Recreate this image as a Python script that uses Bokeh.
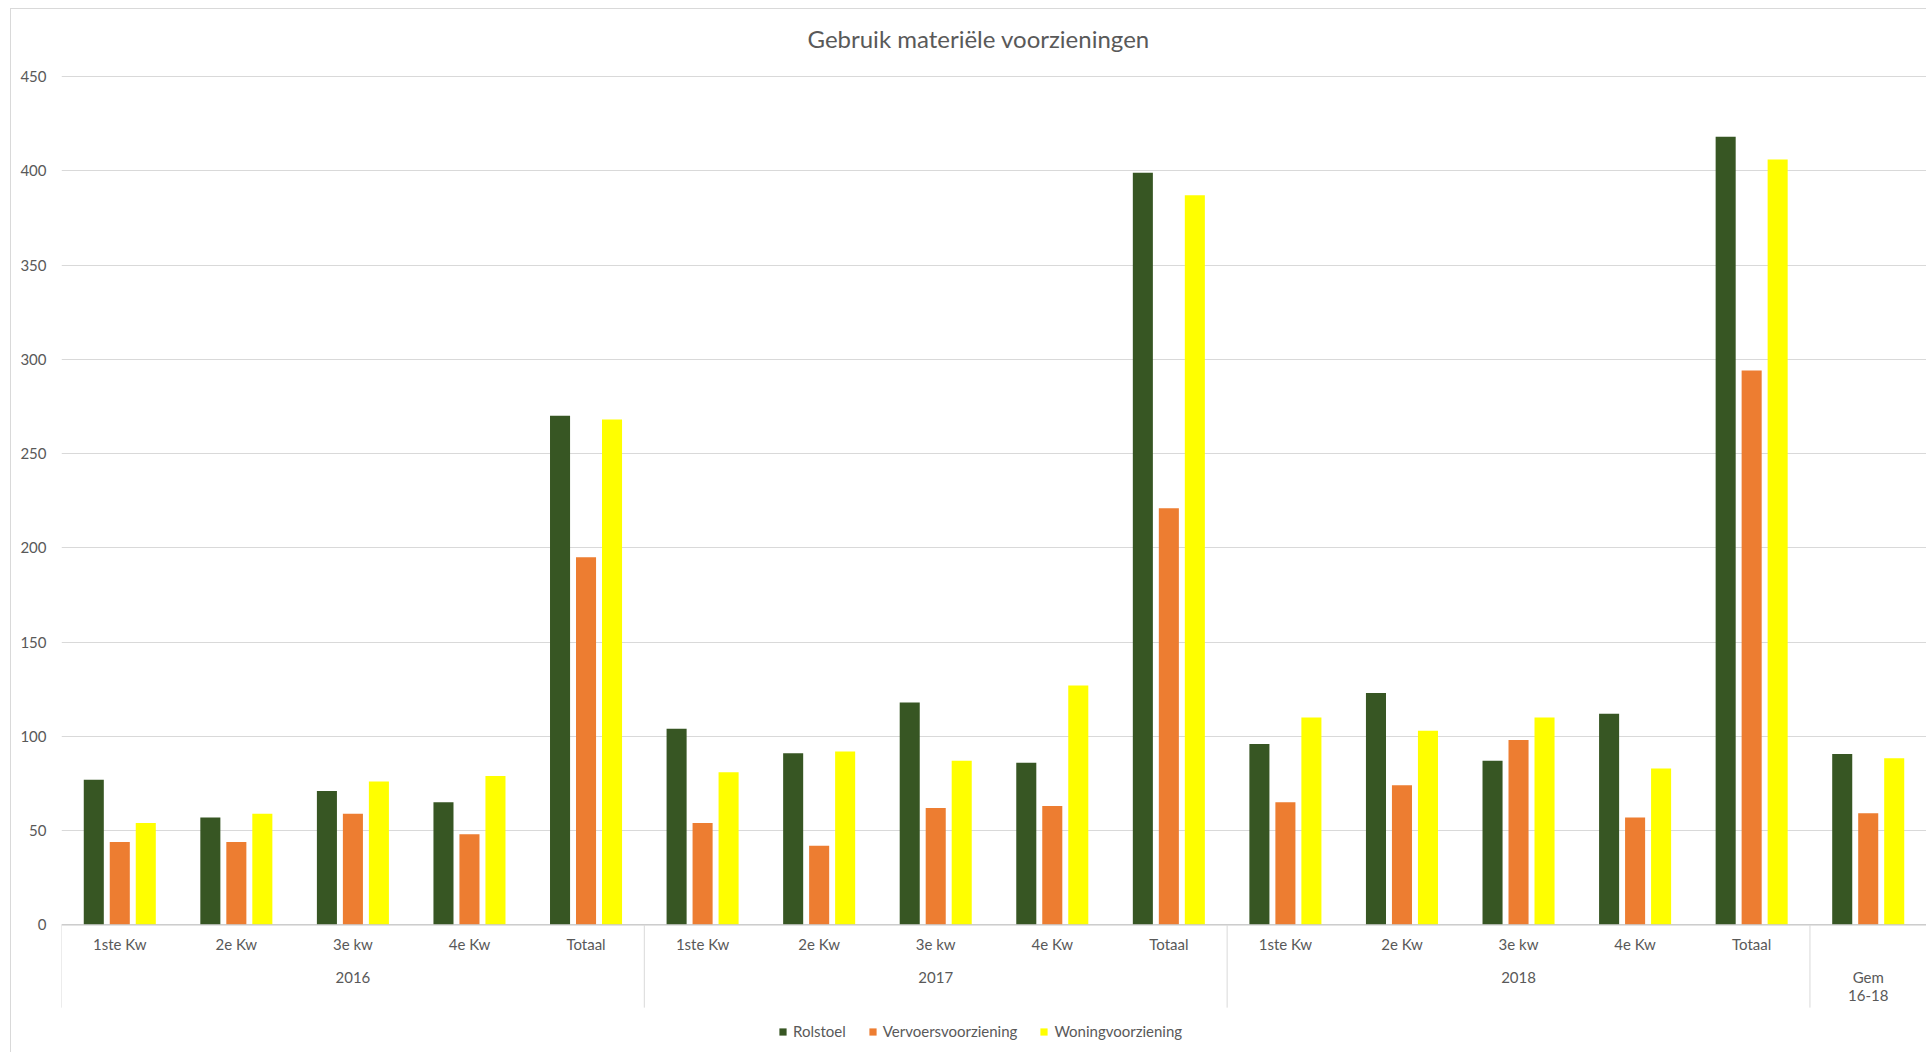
from bokeh.plotting import figure
from bokeh.models import ColumnDataSource, Range1d, FixedTicker, Legend, LegendItem
from bokeh.transform import dodge
from bokeh.core.properties import value
from bokeh.embed import file_html
from bokeh.resources import INLINE

# ---------------- data ----------------
chart_title = "Gebruik materiële voorzieningen"
quarters = ["1ste Kw", "2e Kw", "3e kw", "4e Kw", "Totaal",
            "1ste Kw", "2e Kw", "3e kw", "4e Kw", "Totaal",
            "1ste Kw", "2e Kw", "3e kw", "4e Kw", "Totaal", ""]
groups = ["2016", "2017", "2018", "Gem\n16-18"]
group_sizes = [5, 5, 5, 1]
series_names = ["Rolstoel", "Vervoersvoorziening", "Woningvoorziening"]
rolstoel = [77, 57, 71, 65, 270, 104, 91, 118, 86, 399, 96, 123, 87, 112, 418, 90.6]
vervoer = [44, 44, 59, 48, 195, 54, 42, 62, 63, 221, 65, 74, 98, 57, 294, 59.2]
woning = [54, 59, 76, 79, 268, 81, 92, 87, 127, 387, 110, 103, 110, 83, 406, 88.4]
y_ticks = [0, 50, 100, 150, 200, 250, 300, 350, 400, 450]
colors = ["#375623", "#ED7D31", "#FFFF00"]

# ---------------- style ----------------
FONT = "Lato"
TXT = "#595959"
GRID = "#d9d9d9"

n = len(quarters)
xc = [i + 0.5 for i in range(n)]
src = ColumnDataSource(dict(x=xc, r=rolstoel, v=vervoer, w=woning))

p = figure(width=1916, height=1044, output_backend="svg", toolbar_location=None,
           x_range=Range1d(0, 16), y_range=Range1d(-67.7, 455.3),
           min_border_left=51, min_border_right=0, min_border_top=58, min_border_bottom=0)
p.margin = (8, 0, 0, 10)
p.outline_line_color = None
p.border_fill_color = None
p.background_fill_color = None
p.styles = {"box-shadow": "inset 1px 1px 0 #d9d9d9", "background": "white"}

p.title.text = chart_title
p.title.align = "left"
p.title.offset = 746
p.title.text_font = FONT
p.title.text_font_size = "24px"
p.title.text_font_style = "normal"
p.title.text_color = TXT
p.title.standoff = 27

p.xaxis.visible = False
p.xgrid.visible = False
tick = FixedTicker(ticks=y_ticks)
p.yaxis.ticker = tick
p.ygrid.ticker = tick
p.ygrid.grid_line_color = GRID
p.yaxis.axis_line_color = None
p.yaxis.major_tick_line_color = None
p.yaxis.major_tick_out = 0
p.yaxis.major_tick_in = 0
p.yaxis.minor_tick_line_color = None
p.yaxis.major_label_text_font = FONT
p.yaxis.major_label_text_font_size = "15px"
p.yaxis.major_label_text_color = TXT
p.yaxis.major_label_standoff = 15

off = 0.223
bw = 0.172
renderers = []
for col, o, c in zip(["r", "v", "w"], [-off, 0, off], colors):
    rr = p.vbar(x=dodge("x", o, range=p.x_range), top=col, bottom=0, width=bw,
                source=src, fill_color=c, line_color=None)
    renderers.append(rr)

# baseline
p.segment(x0=[0], x1=[16], y0=[0], y1=[0], line_color="#c8c8c8", line_width=1.2)

# group separators
bounds = [0]
for s in group_sizes:
    bounds.append(bounds[-1] + s)
p.segment(x0=bounds, x1=bounds, y0=[0] * len(bounds), y1=[-43.9] * len(bounds),
          line_color=GRID, line_width=1)

# category labels
p.text(x=xc, y=[-10.2] * n, text=quarters, text_align="center", text_baseline="middle",
       text_font=value(FONT), text_font_size="15px", text_color=TXT)

# group labels (each line of a label drawn one below the other)
gx, gy, gt = [], [], []
start = 0
for s, g in zip(group_sizes, groups):
    lines = g.split("\n")
    for k, line in enumerate(lines):
        gx.append(start + s / 2)
        gy.append((-28.0 if len(lines) == 1 else -27.5) - 9.8 * k)
        gt.append(line)
    start += s
p.text(x=gx, y=gy, text=gt, text_align="center", text_baseline="middle",
       text_font=value(FONT), text_font_size="15px", text_color=TXT)

legend = Legend(items=[LegendItem(label=nm, renderers=[r]) for nm, r in zip(series_names, renderers)],
                orientation="horizontal", location=(717, 12), border_line_color=None,
                background_fill_alpha=0, label_text_font=FONT, label_text_font_size="15px",
                label_text_color=TXT, glyph_width=9, glyph_height=9, spacing=22,
                label_standoff=6, padding=0, margin=0)
p.add_layout(legend)

open("out.html", "w").write(file_html(p, INLINE))
